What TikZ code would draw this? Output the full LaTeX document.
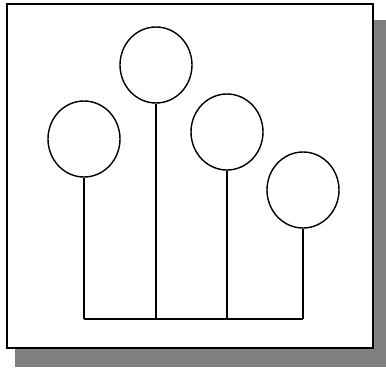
\documentclass[tikz,border=0pt]{standalone}
\usetikzlibrary{shapes.geometric}

\begin{document}
\begin{tikzpicture}[x=1pt, y=-1pt,
  bulb/.style={draw, ellipse, line width=1.4pt, minimum width=72pt, minimum height=76pt, inner sep=0pt},
  stem/.style={line width=1.4pt}
]
  \useasboundingbox (0,0) rectangle (386,369);

  % shadow behind the frame
  \fill[black!50] (373,20) rectangle (386,367);
  \fill[black!50] (15,348) rectangle (386,367);

  % frame
  \draw[line width=1.8pt, fill=white] (7,4) rectangle (373,348);

  % bulbs
  \node[bulb] (b1) at (84,139) {};
  \node[bulb] (b2) at (156,65) {};
  \node[bulb] (b3) at (227,132) {};
  \node[bulb] (b4) at (303,190) {};

  % feet on the base line
  \foreach \i in {1,...,4}
    \coordinate (f\i) at (b\i.south |- 0,319);

  \foreach \i in {1,...,4}
    \draw[stem] (b\i.south) -- (f\i);
  \draw[stem] (f1) -- (f4);
\end{tikzpicture}
\end{document}
